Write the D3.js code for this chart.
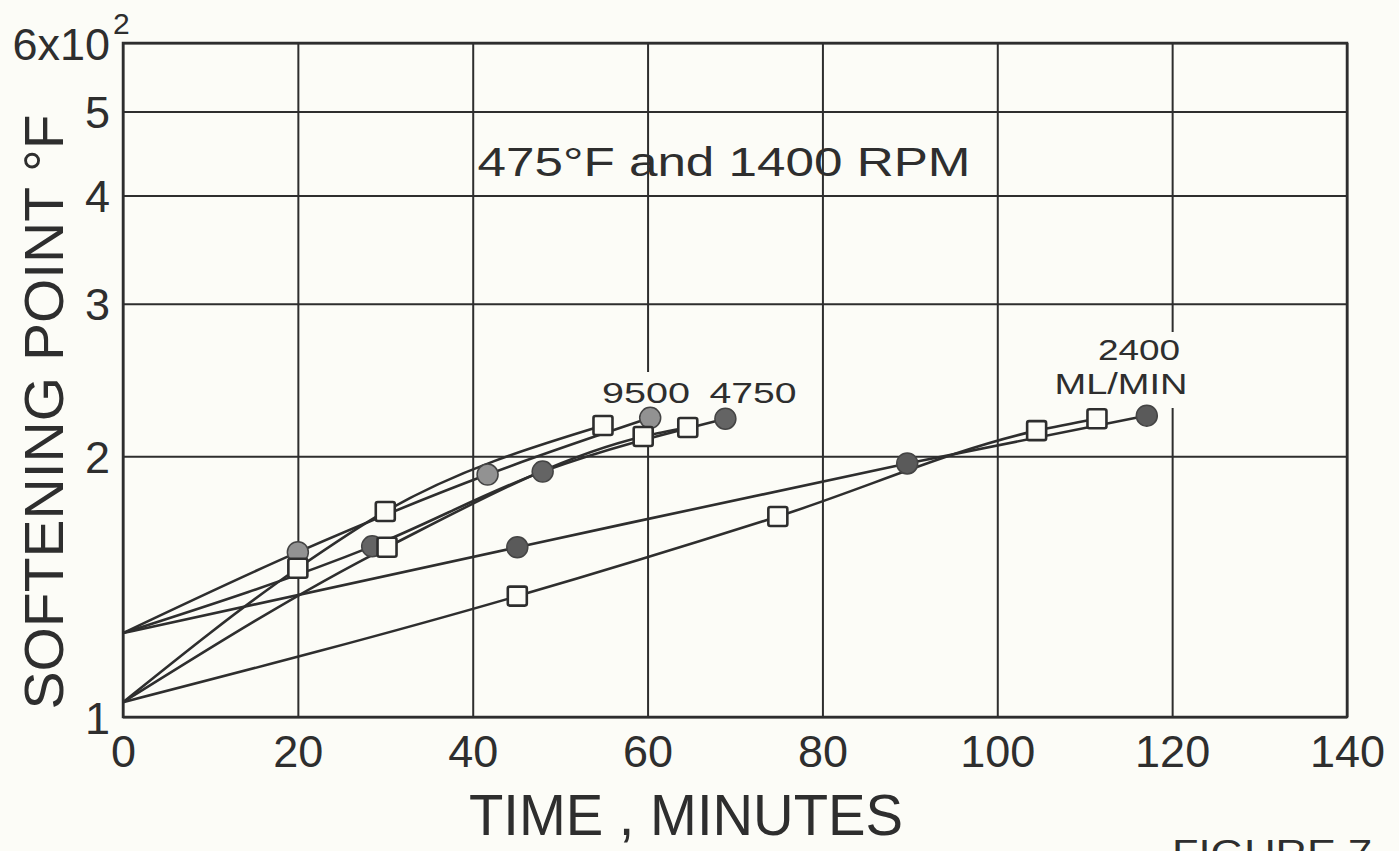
<!DOCTYPE html>
<html>
<head>
<meta charset="utf-8">
<script src="https://cdn.jsdelivr.net/npm/d3@7"></script>
<style>
  body { margin: 0; background: #fcfcf7; }
  svg { display: block; }
</style>
</head>
<body>
<div id="chart"></div>
<script>
// axis ticks
const xTicks = [0, 20, 40, 60, 80, 100, 120, 140];
const yTicks = [100, 200, 300, 400, 500, 600];
const yTickLabels = ['1', '2', '3', '4', '5', '6x10'];

// time (minutes) / softening point (deg F)
const time9500c = [0, 20, 41.7, 60.3];
const soft9500c = [125, 155, 190.5, 221.5];
const time9500s = [0, 20, 30, 54.9];
const soft9500s = [104, 148.5, 172.7, 217];
const time4750c = [0, 28.5, 48, 68.9];
const soft4750c = [125, 157.4, 192, 221];
const time4750s = [0, 30.2, 59.5, 64.6];
const soft4750s = [104, 157, 210.8, 215.9];
const time2400c = [0, 45.1, 89.7, 117.1];
const soft2400c = [125, 157, 196.2, 222.8];
const time2400s = [0, 45.1, 74.9, 104.5, 111.4];
const soft2400s = [104, 137.9, 170.4, 214.1, 221];

const width = 1399;
const height = 851;
const bg = '#fcfcf7';
const ink = '#2e2e2e';
const font = '"Liberation Sans", Arial, sans-serif';

const runs = [
  { t: time9500c, s: soft9500c, marker: 'circle', fill: '#929292' },
  { t: time9500s, s: soft9500s, marker: 'square' },
  { t: time4750c, s: soft4750c, marker: 'circle', fill: '#646464' },
  { t: time4750s, s: soft4750s, marker: 'square' },
  { t: time2400c, s: soft2400c, marker: 'circle', fill: '#5a5a5a' },
  { t: time2400s, s: soft2400s, marker: 'square' }
].map(r => ({ ...r, pts: r.t.map((t, i) => ({ t, s: r.s[i] })) }));

const x = d3.scaleLinear().domain([0, 140]).range([123, 1347]);
const y = d3.scaleLog().domain([100, 600]).range([717, 43]);

const svg = d3.select('#chart').append('svg')
  .attr('width', width)
  .attr('height', height)
  .style('background', bg);

// grid + tick labels via axes
const xAxis = d3.axisBottom(x)
  .tickValues(xTicks)
  .tickSize(-(y(100) - y(600)))
  .tickPadding(18)
  .tickFormat(d => d);

const gx = svg.append('g')
  .attr('transform', `translate(0,${y(100)})`)
  .call(xAxis);

const yAxis = d3.axisLeft(y)
  .tickValues(yTicks)
  .tickSize(-(x(140) - x(0)))
  .tickPadding(13)
  .tickFormat((d, i) => yTickLabels[i]);

const gy = svg.append('g')
  .attr('transform', `translate(${x(0)},0)`)
  .call(yAxis);

[gx, gy].forEach(g => {
  g.select('.domain').remove();
  g.selectAll('.tick line').attr('stroke', ink).attr('stroke-width', 2);
  g.selectAll('.tick text')
    .attr('fill', ink)
    .attr('font-family', font)
    .attr('font-size', 45);
});
gy.selectAll('.tick text').attr('dy', '0.36em');

// exponent for the top label, set beside it
gy.selectAll('.tick').filter(d => d === 600)
  .append('text')
  .attr('x', -10)
  .attr('y', -10)
  .attr('font-family', font)
  .attr('font-size', 30)
  .attr('fill', ink)
  .attr('text-anchor', 'start')
  .text('2');

// frame
svg.append('rect')
  .attr('x', x(0))
  .attr('y', y(600))
  .attr('width', x(140) - x(0))
  .attr('height', y(100) - y(600))
  .attr('fill', 'none')
  .attr('stroke', ink)
  .attr('stroke-width', 2.5);

// knock-outs behind the curve labels
svg.append('g')
  .selectAll('rect')
  .data([[598, 372, 204, 40], [1050, 332, 146, 76]])
  .join('rect')
    .attr('x', d => d[0])
    .attr('y', d => d[1])
    .attr('width', d => d[2])
    .attr('height', d => d[3])
    .attr('fill', bg);

// curves
const line = d3.line()
  .x(d => x(d.t))
  .y(d => y(d.s))
  .curve(d3.curveMonotoneX);

svg.append('g')
  .attr('fill', 'none')
  .attr('stroke', ink)
  .attr('stroke-width', 2.6)
  .attr('stroke-linejoin', 'round')
.selectAll('path')
  .data(runs)
  .join('path')
    .attr('d', d => line(d.pts));

// markers (no marker on the starting value)
const markers = svg.append('g');
runs.forEach(r => {
  const pts = r.pts.slice(1);
  if (r.marker === 'circle') {
    markers.append('g')
      .selectAll('circle')
      .data(pts)
      .join('circle')
        .attr('cx', d => x(d.t))
        .attr('cy', d => y(d.s))
        .attr('r', 10.5)
        .attr('fill', r.fill)
        .attr('stroke', '#444')
        .attr('stroke-width', 1.5);
  } else {
    markers.append('g')
      .selectAll('rect')
      .data(pts)
      .join('rect')
        .attr('x', d => x(d.t) - 9.5)
        .attr('y', d => y(d.s) - 9.5)
        .attr('width', 19)
        .attr('height', 19)
        .attr('rx', 2)
        .attr('fill', bg)
        .attr('stroke', ink)
        .attr('stroke-width', 2.6);
  }
});

// text
const txt = (str, px, py, size, len, rotate) => {
  const t = svg.append('text')
    .attr('font-family', font)
    .attr('font-size', size)
    .attr('fill', ink)
    .attr('text-anchor', 'middle')
    .text(str);
  if (rotate) {
    t.attr('transform', `translate(${px},${py}) rotate(-90)`);
  } else {
    t.attr('x', px).attr('y', py);
  }
  if (len) t.attr('textLength', len).attr('lengthAdjust', 'spacingAndGlyphs');
  return t;
};

txt('475°F and 1400  RPM', 724, 176, 40, 493);
txt('9500', 646, 403, 29, 88);
txt('4750', 753, 403, 29, 87);
txt('2400', 1139, 360, 29, 82);
txt('ML/MIN', 1121, 394, 29, 133);
txt('TIME , MINUTES', 686, 835, 57, 434);
txt('SOFTENING  POINT °F', 63, 412, 56, 595, true);
txt('FIGURE  7', 1272, 866, 36, 200);
</script>
</body>
</html>
